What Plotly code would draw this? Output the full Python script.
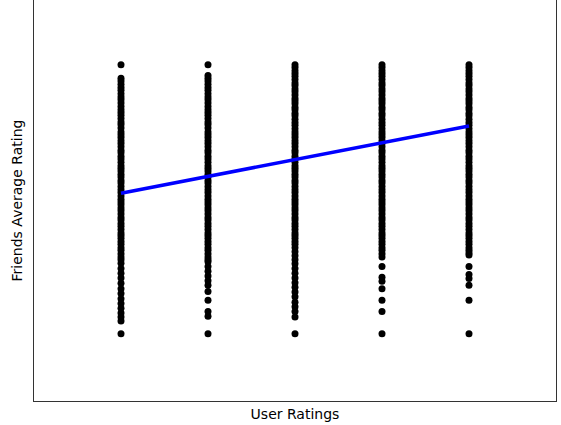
import plotly.graph_objects as go

user_ratings = [1, 2, 3, 4, 5]

friends_avg_r1 = [5.00, 4.80, 4.76, 4.71, 4.66, 4.62, 4.57, 4.52, 4.48, 4.43, 4.38, 4.33, 4.29, 4.25, 4.20,
                  4.15, 4.11, 4.06, 4.00, 3.96, 3.92, 3.87, 3.83, 3.78, 3.73, 3.69, 3.64, 3.60, 3.55,
                  3.50, 3.46, 3.42, 3.37, 3.33, 3.28, 3.24, 3.19, 3.14, 3.10, 3.05, 3.00, 2.96, 2.92,
                  2.87, 2.83, 2.78, 2.73, 2.69, 2.64, 2.60, 2.55, 2.50, 2.46, 2.42, 2.37, 2.33, 2.28,
                  2.24, 2.19, 2.14, 2.10, 2.05, 1.97, 1.90, 1.83, 1.75, 1.67, 1.60, 1.52, 1.45, 1.38,
                  1.31, 1.25, 1.19, 1.00]
friends_avg_r2 = [5.00, 4.84, 4.80, 4.76, 4.71, 4.66, 4.62, 4.57, 4.52, 4.48, 4.43, 4.38, 4.33, 4.29, 4.25,
                  4.20, 4.15, 4.11, 4.06, 4.00, 3.96, 3.92, 3.87, 3.83, 3.78, 3.73, 3.69, 3.64, 3.60,
                  3.55, 3.50, 3.46, 3.42, 3.37, 3.33, 3.28, 3.24, 3.19, 3.14, 3.10, 3.05, 3.00, 2.96,
                  2.92, 2.87, 2.83, 2.78, 2.73, 2.69, 2.64, 2.60, 2.55, 2.50, 2.46, 2.42, 2.37, 2.33,
                  2.28, 2.24, 2.19, 2.14, 2.10, 2.07, 2.00, 1.93, 1.86, 1.79, 1.72, 1.63, 1.50, 1.33,
                  1.26, 1.00]
friends_avg_r3 = [5.00, 4.96, 4.91, 4.87, 4.83, 4.78, 4.73, 4.69, 4.64, 4.60, 4.55, 4.50, 4.46, 4.42, 4.37,
                  4.33, 4.28, 4.24, 4.19, 4.14, 4.10, 4.05, 4.00, 3.96, 3.92, 3.87, 3.83, 3.78, 3.73,
                  3.69, 3.64, 3.60, 3.55, 3.50, 3.46, 3.42, 3.37, 3.33, 3.28, 3.24, 3.19, 3.14, 3.10,
                  3.05, 3.00, 2.96, 2.92, 2.87, 2.83, 2.78, 2.73, 2.69, 2.64, 2.60, 2.55, 2.50, 2.46,
                  2.42, 2.37, 2.33, 2.28, 2.22, 2.16, 2.10, 2.04, 1.97, 1.90, 1.83, 1.76, 1.69, 1.62,
                  1.55, 1.47, 1.40, 1.33, 1.25, 1.00]
friends_avg_r4 = [5.00, 4.96, 4.91, 4.87, 4.83, 4.78, 4.73, 4.69, 4.64, 4.60, 4.55, 4.50, 4.46, 4.42, 4.37,
                  4.33, 4.28, 4.24, 4.19, 4.14, 4.10, 4.05, 4.00, 3.96, 3.92, 3.87, 3.83, 3.78, 3.73,
                  3.69, 3.64, 3.60, 3.55, 3.50, 3.46, 3.42, 3.37, 3.33, 3.28, 3.24, 3.19, 3.14, 3.10,
                  3.05, 3.00, 2.96, 2.92, 2.87, 2.83, 2.78, 2.73, 2.69, 2.64, 2.60, 2.55, 2.50, 2.46,
                  2.42, 2.37, 2.33, 2.28, 2.24, 2.19, 2.14, 2.00, 1.84, 1.78, 1.67, 1.50, 1.33, 1.00]
friends_avg_r5 = [5.00, 4.96, 4.91, 4.87, 4.83, 4.78, 4.73, 4.69, 4.64, 4.60, 4.55, 4.50, 4.46, 4.42, 4.37,
                  4.33, 4.28, 4.24, 4.19, 4.14, 4.10, 4.05, 4.00, 3.96, 3.92, 3.87, 3.83, 3.78, 3.73,
                  3.69, 3.64, 3.60, 3.55, 3.50, 3.46, 3.42, 3.37, 3.33, 3.28, 3.24, 3.19, 3.14, 3.10,
                  3.05, 3.00, 2.96, 2.92, 2.87, 2.83, 2.78, 2.73, 2.69, 2.64, 2.60, 2.55, 2.50, 2.46,
                  2.42, 2.37, 2.33, 2.28, 2.24, 2.20, 2.17, 2.00, 1.88, 1.82, 1.72, 1.50, 1.00]

fit_x = [1, 5]
fit_y = [3.09, 4.09]

columns = [friends_avg_r1, friends_avg_r2, friends_avg_r3, friends_avg_r4, friends_avg_r5]
xs, ys = [], []
for r, vals in zip(user_ratings, columns):
    xs += [r] * len(vals)
    ys += vals

fig = go.Figure()
fig.add_trace(go.Scatter(x=xs, y=ys, mode="markers",
                         marker=dict(color="black", size=7, line=dict(width=0)),
                         showlegend=False, hoverinfo="skip"))
fig.add_trace(go.Scatter(x=fit_x, y=fit_y, mode="lines",
                         line=dict(color="#0000ff", width=3.5), showlegend=False))

fig.update_layout(
    width=561, height=425,
    margin=dict(l=34, r=5, t=0, b=24),
    paper_bgcolor="white", plot_bgcolor="white",
    font=dict(family="DejaVu Sans", size=14, color="black"),
)
fig.update_xaxes(range=[0, 6], showticklabels=False, ticks="", showgrid=False, zeroline=False,
                 showline=True, linecolor="#333", linewidth=1, mirror=True, automargin=False,
                 title=dict(text="User Ratings", standoff=8, font=dict(size=14)))
fig.update_yaxes(range=[0, 5.963], showticklabels=False, ticks="", showgrid=False, zeroline=False,
                 showline=True, linecolor="#333", linewidth=1, mirror=True, automargin=False,
                 title=dict(text="Friends Average Rating", standoff=7, font=dict(size=14)))

fig.write_html("out.html", config={"displayModeBar": False},
               post_script="document.body.style.margin='0';")
